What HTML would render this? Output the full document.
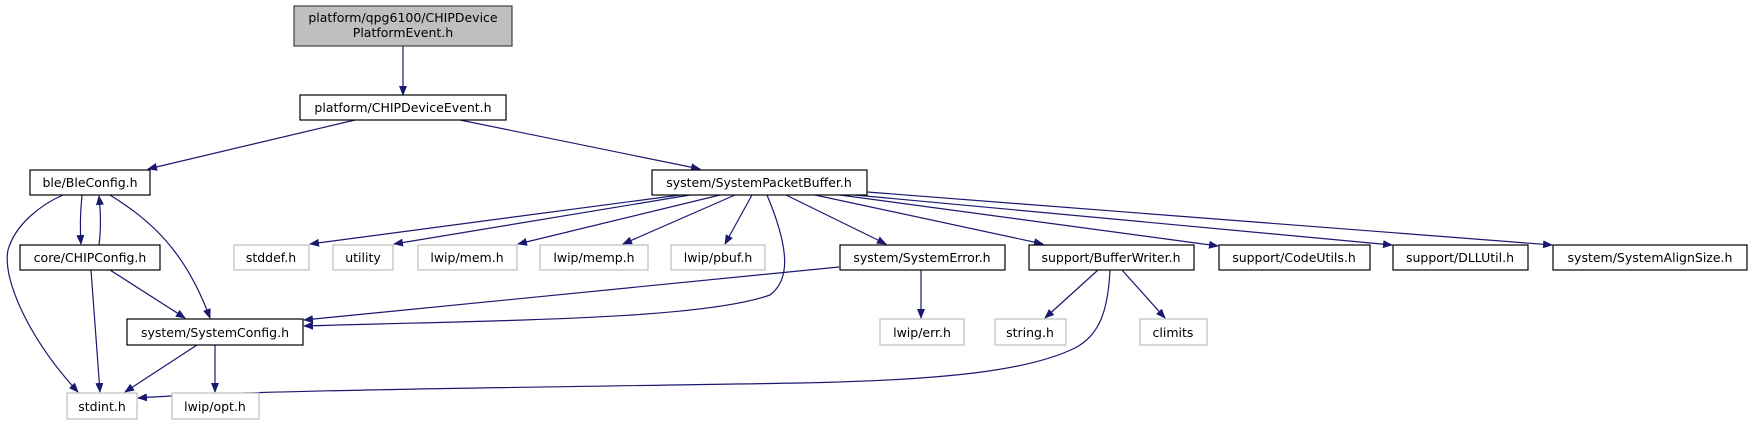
<!DOCTYPE html>
<html><head><meta charset="utf-8"><style>
html,body{margin:0;padding:0;background:#fff;width:1753px;height:425px;overflow:hidden}
text{font-family:"DejaVu Sans","Liberation Sans",sans-serif;font-size:12.5px;fill:#000}
</style></head><body>
<svg width="1753" height="425" xmlns="http://www.w3.org/2000/svg">
<defs><marker id="a" markerWidth="10" markerHeight="8" refX="9" refY="4" orient="auto" markerUnits="userSpaceOnUse"><path d="M0,0 L10,4 L0,8 z" fill="#191970"/></marker></defs>
<g fill="none" stroke="#191970" stroke-width="1.2" marker-end="url(#a)">
<path d="M403,46 L403,95"/>
<path d="M355,120 L148,169"/>
<path d="M460,120 L700,169"/>
<path d="M82,195 C80,215 80,230 81,244"/>
<path d="M99,245 C101,230 101,215 99,196"/>
<path d="M63,195 C40,205 15,225 8,250 C2,280 30,340 78,392"/>
<path d="M110,195 C150,220 185,250 210,318"/>
<path d="M91,270 L100,392"/>
<path d="M110,270 L185,318"/>
<path d="M197,345 L125,392"/>
<path d="M215,345 L215,392"/>
<path d="M680,195 L310,244"/>
<path d="M690,195 L394,244"/>
<path d="M720,195 L518,244"/>
<path d="M735,195 L623,244"/>
<path d="M752,195 L725,244"/>
<path d="M767,195 C790,250 790,280 770,295 C700,320 500,320 304,326"/>
<path d="M786,195 L886,244"/>
<path d="M815,195 L1043,244"/>
<path d="M840,195 L1218,246"/>
<path d="M855,195 L1392,245"/>
<path d="M867,192 L1552,245"/>
<path d="M839,267 L304,320"/>
<path d="M921,270 L921,318"/>
<path d="M1098,270 L1045,318"/>
<path d="M1122,270 L1165,318"/>
<path d="M1110,270 C1108,310 1100,335 1075,348 C1030,370 950,380 800,383 C500,388 250,390 138,398"/>
</g>
<g stroke-width="1.2">
<rect x="294" y="6" width="218" height="40" fill="#bfbfbf" stroke="#404040"/>
<rect x="300" y="95" width="206" height="25" fill="#fff" stroke="#000"/>
<rect x="30" y="170" width="120" height="25" fill="#fff" stroke="#000"/>
<rect x="20" y="245" width="140" height="25" fill="#fff" stroke="#000"/>
<rect x="127" y="319" width="176" height="26" fill="#fff" stroke="#000"/>
<rect x="652" y="170" width="215" height="25" fill="#fff" stroke="#000"/>
<rect x="840" y="245" width="165" height="25" fill="#fff" stroke="#000"/>
<rect x="1029" y="245" width="165" height="25" fill="#fff" stroke="#000"/>
<rect x="1219" y="245" width="151" height="25" fill="#fff" stroke="#000"/>
<rect x="1393" y="245" width="135" height="25" fill="#fff" stroke="#000"/>
<rect x="1553" y="245" width="194" height="25" fill="#fff" stroke="#000"/>
<g fill="#fff" stroke="#bfbfbf">
<rect x="67" y="393" width="70" height="26"/>
<rect x="172" y="393" width="87" height="26"/>
<rect x="234" y="245" width="75" height="25"/>
<rect x="333" y="245" width="60" height="25"/>
<rect x="418" y="245" width="99" height="25"/>
<rect x="540" y="245" width="108" height="25"/>
<rect x="671" y="245" width="94" height="25"/>
<rect x="880" y="319" width="84" height="26"/>
<rect x="995" y="319" width="71" height="26"/>
<rect x="1140" y="319" width="67" height="26"/>
</g>
</g>
<g text-anchor="middle">
<text x="403" y="22">platform/qpg6100/CHIPDevice</text>
<text x="403" y="37">PlatformEvent.h</text>
<text x="403" y="112">platform/CHIPDeviceEvent.h</text>
<text x="90" y="187">ble/BleConfig.h</text>
<text x="90" y="262">core/CHIPConfig.h</text>
<text x="215" y="337">system/SystemConfig.h</text>
<text x="759" y="187">system/SystemPacketBuffer.h</text>
<text x="922" y="262">system/SystemError.h</text>
<text x="1111" y="262">support/BufferWriter.h</text>
<text x="1294" y="262">support/CodeUtils.h</text>
<text x="1460" y="262">support/DLLUtil.h</text>
<text x="1650" y="262">system/SystemAlignSize.h</text>
<text x="102" y="411">stdint.h</text>
<text x="215" y="411">lwip/opt.h</text>
<text x="271" y="262">stddef.h</text>
<text x="363" y="262">utility</text>
<text x="467" y="262">lwip/mem.h</text>
<text x="594" y="262">lwip/memp.h</text>
<text x="718" y="262">lwip/pbuf.h</text>
<text x="922" y="337">lwip/err.h</text>
<text x="1030" y="337">string.h</text>
<text x="1173" y="337">climits</text>
</g>
</svg>
</body></html>
